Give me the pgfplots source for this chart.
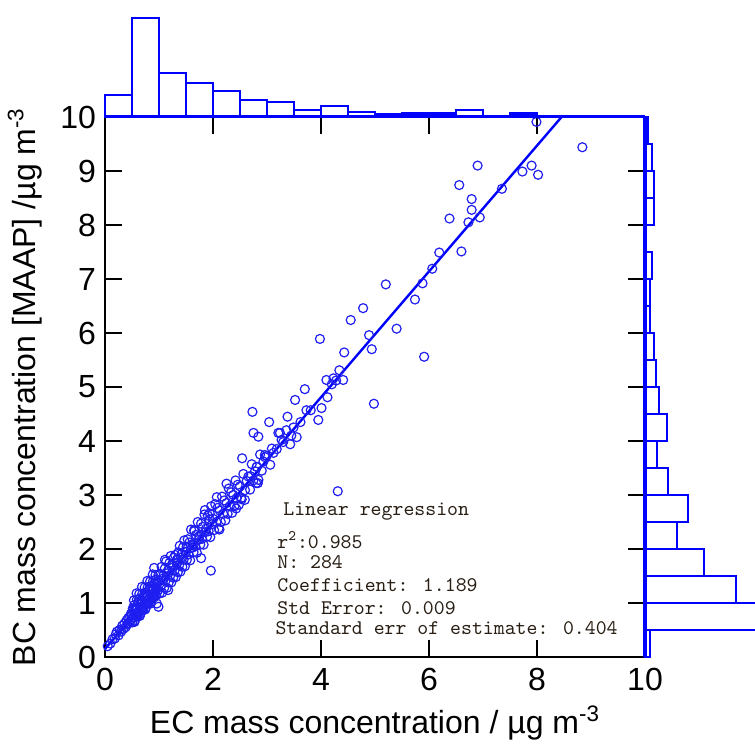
\documentclass[border=0pt]{standalone}
\usepackage{pgfplots}
\pgfplotsset{compat=1.18}
\usepackage{fontspec}
\setmainfont{Liberation Sans}
\definecolor{hblue}{RGB}{0,0,255}
\definecolor{mblue}{RGB}{30,30,240}
\definecolor{txt}{RGB}{40,30,20}
\newcommand{\regfont}{\ttfamily\addfontfeatures{FakeBold=0.8}\fontsize{10.4}{10.4}\selectfont}
\begin{document}
\begin{tikzpicture}
\useasboundingbox (0,0) rectangle (377.5pt,372.5pt);
% ---------------- main scatter axis ----------------
\begin{axis}[
  at={(52.5pt,44pt)}, anchor=south west,
  width=270pt, height=270pt, scale only axis,
  xmin=0, xmax=10, ymin=0, ymax=10,
  xtick={0,2,...,10}, ytick={0,1,...,10},
  tick align=inside, major tick length=8.5pt,
  axis line style={black, line width=1.2pt},
  tick style={black, line width=1.2pt},
  ticklabel style={font=\fontsize{16}{16}\selectfont},
  xticklabel style={yshift=-2pt},
  yticklabel style={xshift=-1pt},
  /pgf/number format/assume math mode=true,
  xlabel={EC mass concentration / µg m\textsuperscript{-3}},
  ylabel={BC mass concentration [MAAP] /µg m\textsuperscript{-3}},
  label style={font=\fontsize{16}{18}\selectfont},
  xlabel style={at={(axis description cs:0.5,-0.122)}, anchor=center},
  ylabel style={at={(axis description cs:-0.148,0.5)}, anchor=center},
]
\addplot[only marks, mark=o, mark size=2.25pt, color=mblue, mark options={line width=0.6pt}] table {
x y
0.05 0.20
0.10 0.25
0.14 0.33
0.18 0.34
0.20 0.42
0.22 0.47
0.25 0.40
0.27 0.50
0.30 0.47
0.32 0.58
0.34 0.52
0.36 0.62
0.38 0.55
0.40 0.68
0.41 0.60
0.43 0.72
0.44 0.63
0.46 0.75
0.47 0.66
0.48 0.80
0.49 0.70
0.50 0.78
0.51 0.66
0.52 0.88
0.53 0.74
0.54 0.96
0.55 0.67
0.56 0.80
0.57 0.89
0.58 0.77
0.59 1.06
0.60 0.90
0.61 0.78
0.62 0.99
0.63 0.85
0.64 1.08
0.65 0.79
0.66 0.92
0.67 1.01
0.68 0.88
0.69 1.17
0.70 1.02
0.71 0.90
0.72 1.11
0.73 0.97
0.74 1.19
0.75 0.90
0.76 1.04
0.77 1.13
0.78 1.00
0.79 1.29
0.80 1.13
0.81 1.01
0.82 1.23
0.83 1.09
0.84 1.31
0.85 1.02
0.86 1.15
0.87 1.24
0.88 1.12
0.89 1.41
0.90 1.25
0.91 1.13
0.92 1.34
0.93 1.20
0.94 1.43
0.95 1.14
0.96 1.27
0.97 1.36
0.98 1.23
0.99 1.52
0.505 0.64
0.515 0.90
0.525 0.74
0.535 1.05
0.545 0.65
0.555 0.86
0.565 0.76
0.575 0.92
0.585 1.18
0.595 0.77
0.605 0.76
0.615 1.02
0.625 0.86
0.635 1.17
0.645 0.76
0.655 0.97
0.665 0.88
0.675 1.04
0.685 1.30
0.695 0.89
0.705 0.87
0.715 1.13
0.725 0.98
0.735 1.29
0.745 0.88
0.755 1.09
0.765 0.99
0.775 1.15
0.785 1.41
0.795 1.01
0.805 0.99
0.815 1.25
0.825 1.09
0.835 1.40
0.845 0.99
0.855 1.21
0.865 1.11
0.875 1.27
0.885 1.53
0.895 1.12
0.905 1.10
0.915 1.37
0.925 1.21
0.935 1.52
0.91 1.65
0.96 0.99
0.99 0.93
1.000 1.42
1.012 1.18
1.024 1.54
1.036 1.31
1.048 1.67
1.060 1.19
1.072 1.45
1.084 1.51
1.096 1.28
1.108 1.64
1.120 1.41
1.132 1.77
1.144 1.28
1.156 1.55
1.168 1.61
1.180 1.38
1.192 1.74
1.204 1.50
1.216 1.87
1.228 1.38
1.240 1.65
1.252 1.71
1.264 1.47
1.276 1.84
1.288 1.60
1.300 1.89
1.312 1.48
1.324 1.74
1.336 1.81
1.348 1.57
1.360 1.94
1.372 1.70
1.384 2.06
1.396 1.58
1.408 1.84
1.420 1.91
1.432 1.67
1.444 2.03
1.456 1.80
1.468 2.16
1.480 1.68
1.492 1.94
1.11 1.80
1.17 1.24
1.500 1.95
1.516 1.80
1.531 2.18
1.547 1.90
1.562 2.12
1.578 1.79
1.593 2.36
1.609 2.02
1.624 2.09
1.640 1.94
1.655 2.33
1.671 2.05
1.686 2.26
1.702 1.93
1.717 2.50
1.733 2.17
1.748 2.24
1.764 2.08
1.779 2.47
1.795 2.19
1.810 2.41
1.826 2.08
1.841 2.64
1.857 2.31
1.872 2.38
1.888 2.23
1.903 2.62
1.919 2.33
1.934 2.55
1.950 2.22
1.965 2.79
1.981 2.46
1.96 1.60
1.51 2.04
1.64 2.07
1.65 2.35
1.78 1.83
1.85 2.72
1.94 2.66
2.000 2.56
2.021 2.35
2.042 2.83
2.062 2.50
2.083 2.76
2.104 2.38
2.125 2.71
2.146 2.50
2.167 2.97
2.188 2.65
2.208 2.90
2.229 2.53
2.250 2.85
2.271 2.65
2.292 3.12
2.312 2.79
2.333 3.05
2.354 2.67
2.375 3.00
2.396 2.79
2.417 3.27
2.438 2.94
2.458 3.19
2.479 2.82
2.07 2.96
2.12 2.36
2.25 3.21
2.43 2.75
2.500 3.16
2.531 2.92
2.562 3.39
2.593 3.09
2.624 3.26
2.655 3.34
2.686 3.10
2.717 3.57
2.748 3.27
2.779 3.44
2.810 3.52
2.841 3.28
2.872 3.75
2.903 3.45
2.934 3.62
2.965 3.70
2.52 2.94
2.59 2.91
2.54 3.68
2.73 4.54
2.75 4.15
2.84 4.08
2.81 3.52
2.80 3.22
2.83 3.22
2.96 3.74
2.99 3.72
2.69 3.35
3.04 4.35
3.06 3.56
3.09 3.86
3.21 4.15
3.24 4.15
3.27 4.02
3.36 4.20
3.38 4.45
3.43 3.94
3.49 4.25
3.12 3.78
3.18 3.85
3.30 3.98
3.45 4.10
3.52 4.76
3.55 4.07
3.70 4.96
3.73 4.57
3.81 4.57
3.95 4.39
3.98 5.89
3.62 4.35
4.01 4.61
4.12 4.81
4.10 5.13
4.23 5.16
4.34 5.31
4.41 5.13
4.43 5.64
4.31 3.07
4.20 5.05
4.28 5.12
4.55 6.24
4.78 6.46
4.89 5.96
4.94 5.70
4.98 4.69
5.20 6.90
5.40 6.08
5.74 6.62
5.88 6.92
5.91 5.56
6.06 7.19
6.19 7.49
6.38 8.12
6.56 8.74
6.60 7.51
6.73 8.05
6.79 8.48
6.79 8.28
6.90 9.10
6.94 8.14
7.35 8.67
7.73 8.99
7.90 9.10
7.99 9.91
8.02 8.93
8.84 9.44
};
\addplot[hblue, line width=1.2pt] coordinates {(0,0.15) (8.455,10)};
\node[anchor=west, inner sep=0pt, text=txt, font=\regfont] at (axis cs:3.296,2.685) {Linear regression};
\node[anchor=west, inner sep=0pt, text=txt, font=\regfont] at (axis cs:3.185,2.167) {r\textsuperscript{2}:0.985};
\node[anchor=west, inner sep=0pt, text=txt, font=\regfont] at (axis cs:3.185,1.759) {N: 284};
\node[anchor=west, inner sep=0pt, text=txt, font=\regfont] at (axis cs:3.185,1.333) {Coefficient: 1.189};
\node[anchor=west, inner sep=0pt, text=txt, font=\regfont] at (axis cs:3.185,0.907) {Std Error: 0.009};
\node[anchor=west, inner sep=0pt, text=txt, font=\regfont] at (axis cs:3.150,0.537) {Standard err of estimate: 0.404};
\end{axis}
% ---------------- top histogram ----------------
\begin{axis}[
  at={(52.5pt,314pt)}, anchor=south west,
  width=270pt, height=58.5pt, scale only axis,
  xmin=0, xmax=10, ymin=0, ymax=117,
  hide axis, clip=false,
]
\addplot[ybar interval, draw=hblue, fill=white, line width=1.4pt] coordinates {
(0,22) (0.5,99) (1.0,44) (1.5,34) (2.0,26) (2.5,17) (3.0,15) (3.5,7)
(4.0,11) (4.5,5) (5.0,2.5) (5.5,3.5) (6.0,3.5) (6.5,7) (7.0,0.5) (7.5,3.5)
(8.0,0) (8.5,1) (9.0,0) (9.5,0) (10,0)};
\draw[hblue, line width=1.5pt] (axis cs:0,0) -- (axis cs:10,0);
\end{axis}
% ---------------- right histogram ----------------
\begin{axis}[
  at={(320.5pt,44pt)}, anchor=south west,
  width=57pt, height=270pt, scale only axis,
  xmin=-4, xmax=110, ymin=0, ymax=10,
  hide axis, clip=true,
]
\addplot[xbar interval, draw=hblue, fill=white, line width=1.4pt] coordinates {
(5,0) (160,0.5) (91,1.0) (59,1.5) (32,2.0) (43,2.5) (23,3.0) (12,3.5)
(22,4.0) (14,4.5) (11,5.0) (9,5.5) (5,6.0) (5,6.5) (7,7.0) (0,7.5)
(9,8.0) (9,8.5) (7,9.0) (2.5,9.5) (2.5,10)};
\draw[hblue, line width=1.8pt] (axis cs:0,0) -- (axis cs:0,10);
\end{axis}
\end{tikzpicture}
\end{document}
